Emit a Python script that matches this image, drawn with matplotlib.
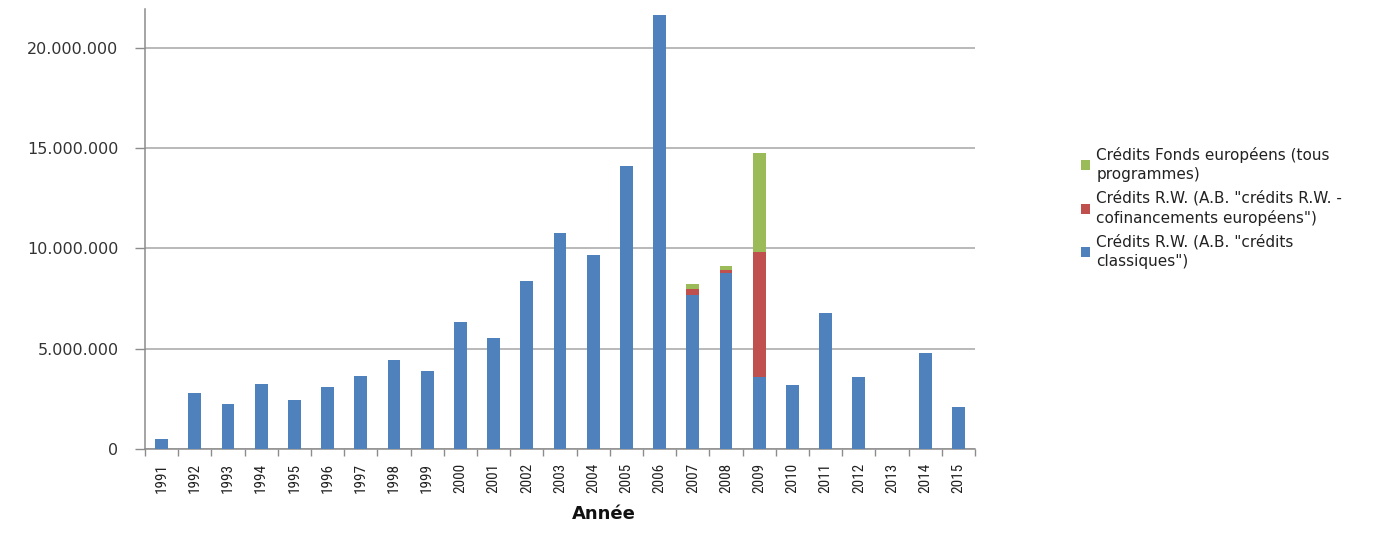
import matplotlib
matplotlib.use("Agg")
import matplotlib.pyplot as plt
from matplotlib.patches import Patch
from matplotlib.ticker import FuncFormatter
from matplotlib import font_manager
import numpy as np

plt.rcParams['font.family'] = ['DejaVu Sans']

years = [str(y) for y in range(1991, 2016)]

classiques = [480000, 2810000, 2230000, 3220000, 2440000, 3100000, 3640000, 4430000,
              3900000, 6310000, 5520000, 8370000, 10760000, 9670000, 14120000, 21640000,
              7670000, 8780000, 3600000, 3170000, 6790000, 3590000, 0, 4800000, 2110000]
cofinancements = [0, 0, 0, 0, 0, 0, 0, 0, 0, 0, 0, 0, 0, 0, 0, 0,
                  290000, 140000, 6200000, 0, 0, 0, 0, 0, 0]
fonds_europeens = [0, 0, 0, 0, 0, 0, 0, 0, 0, 0, 0, 0, 0, 0, 0, 0,
                   250000, 210000, 4950000, 0, 0, 0, 0, 0, 0]

labels = ['Crédits R.W. (A.B. "crédits\nclassiques")',
          'Crédits R.W. (A.B. "crédits R.W. -\ncofinancements européens")',
          'Crédits Fonds européens (tous\nprogrammes)']
colors = ['#4F81BD', '#C0504D', '#9BBB59']
yticks = [0, 5000000, 10000000, 15000000, 20000000]

# narrow face for the year labels if one is available
names = {f.name for f in font_manager.fontManager.ttflist}
narrow = [n for n in ('Liberation Sans Narrow', 'Arial Narrow', 'DejaVu Sans Condensed',
                      'Roboto Condensed', 'Open Sans Condensed') if n in names]
year_font = dict(family=narrow[0], fontsize=11) if narrow else \
    dict(family='DejaVu Sans', fontsize=10, fontstretch='condensed')

fig = plt.figure(figsize=(13.95, 5.43), dpi=100)
ax = fig.add_axes([145 / 1395, 1 - 449 / 543, 830 / 1395, 440 / 543])

x = np.arange(len(years))
w = 0.38
b1 = np.array(classiques)
b2 = b1 + np.array(cofinancements)
ax.bar(x, classiques, width=w, color=colors[0], zorder=3)
ax.bar(x, cofinancements, width=w, bottom=b1, color=colors[1], zorder=3)
ax.bar(x, fonds_europeens, width=w, bottom=b2, color=colors[2], zorder=3)

ax.set_xlim(-0.5, len(years) - 0.5)
ax.set_ylim(0, 21930000)
ax.set_yticks(yticks)
ax.yaxis.set_major_formatter(FuncFormatter(lambda v, p: f"{int(v):,}".replace(",", ".")))
ax.grid(axis='y', color='#A6A6A6', linewidth=1.1, zorder=0)

# category boundary ticks on the x axis
ax.set_xticks(np.arange(-0.5, len(years), 1.0))
ax.set_xticklabels([])
ax.set_xticks(x, minor=True)
ax.set_xticklabels(years, minor=True, rotation=90, color='#222222', **year_font)
ax.tick_params(axis='x', which='minor', length=0, pad=10)
ax.tick_params(axis='x', which='major', length=5, color='#8C8C8C', width=1)
ax.tick_params(axis='y', length=7, color='#8C8C8C', width=1, labelsize=11.5,
               labelcolor='#333333', pad=12)

for s in ['top', 'right']:
    ax.spines[s].set_visible(False)
for s in ['left', 'bottom']:
    ax.spines[s].set_color('#8C8C8C')
    ax.spines[s].set_linewidth(1.1)

fig.text(604 / 1395, 1 - 514 / 543, 'Année', ha='center', va='center',
         fontsize=13, fontweight='bold', color='#111111')

handles = [Patch(facecolor=colors[i]) for i in (2, 1, 0)]
leg = fig.legend(handles, [labels[2], labels[1], labels[0]],
                 loc='upper left', bbox_to_anchor=(1075 / 1395, 1 - 141 / 543),
                 frameon=False, fontsize=11, handlelength=0.6, handleheight=0.6,
                 handletextpad=0.4, labelspacing=0.55, borderaxespad=0,
                 labelcolor='#222222')
for t in leg.get_texts():
    t.set_linespacing(1.32)

fig.savefig('out.png', dpi=100, facecolor='white')
